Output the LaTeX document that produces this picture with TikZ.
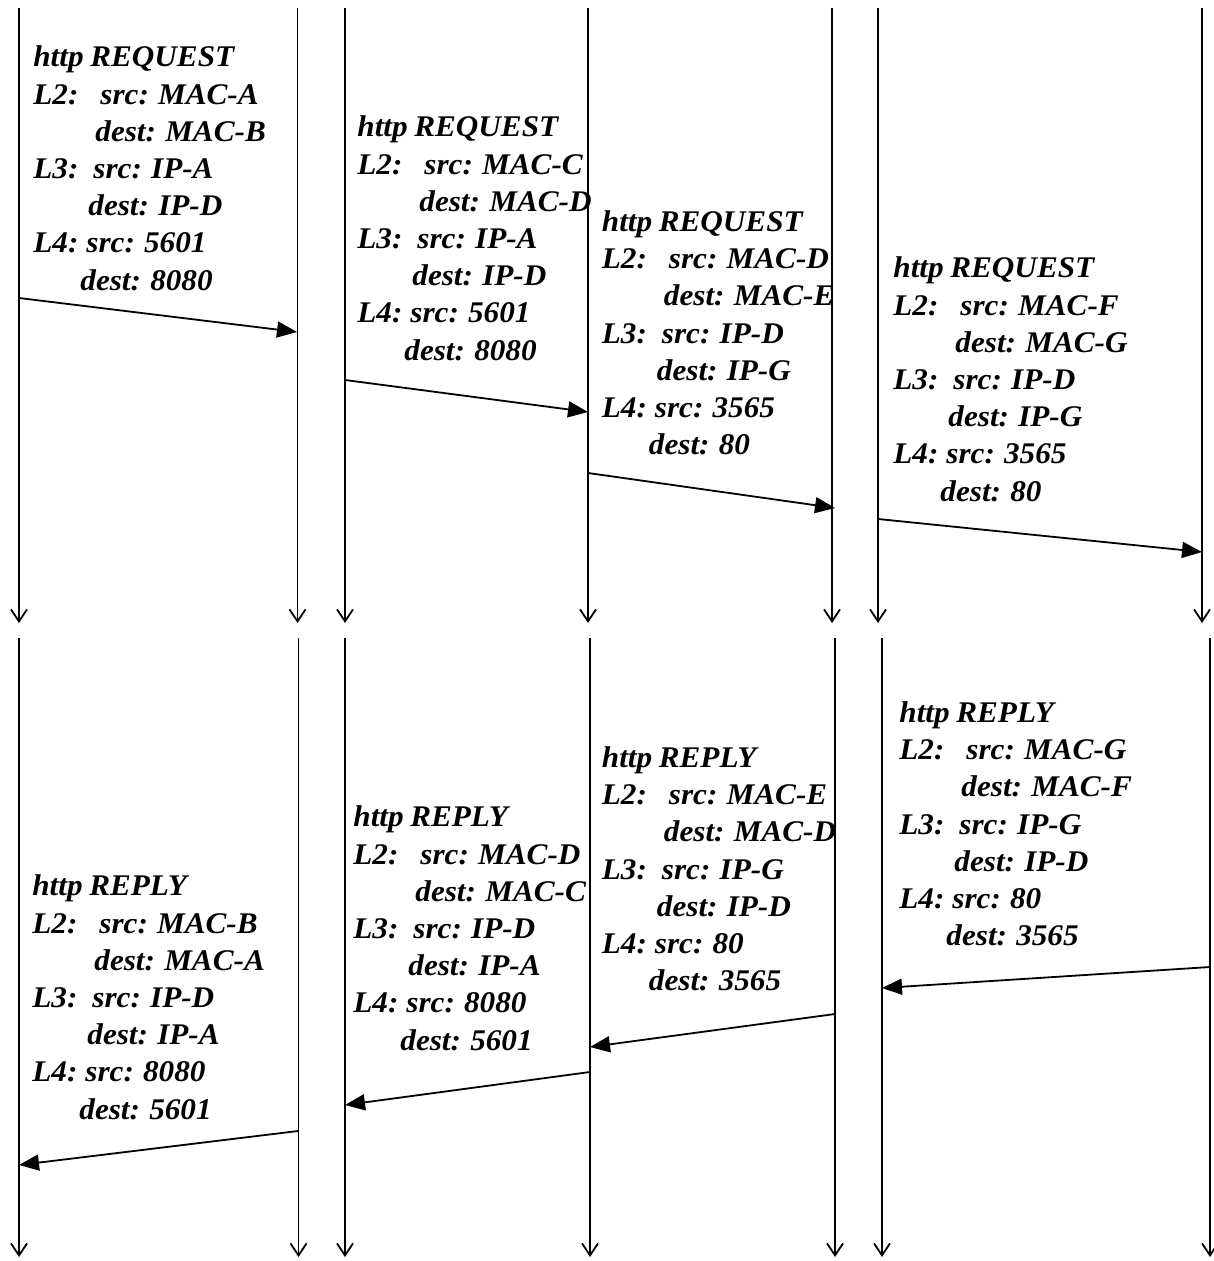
\documentclass[tikz,border=0pt]{standalone}
\usepackage{fontspec}
\setmainfont{Liberation Serif}[FakeStretch=1.04,WordSpace=0.85]
\usetikzlibrary{arrows.meta}
\newcommand{\pktblock}[7]{\rule{0pt}{10.5pt}http #1\\
\makebox[33.5pt][l]{L2:}src: #2\\
\hspace*{31pt}dest: #3\\
\makebox[30pt][l]{L3:}src: #4\\
\hspace*{27.5pt}dest: #5\\
\makebox[26.5pt][l]{L4:}src: #6\\
\hspace*{23.5pt}dest: #7}
\tikzset{
  life/.style={line width=0.9pt,-{Straight Barb[length=6pt,width=8pt,line width=0.9pt]}},
  msg/.style={line width=0.9pt,-{Triangle[length=10pt,width=8pt]}},
  pkt/.style={anchor=north west,inner sep=0pt,align=left,
    font=\fontsize{15}{18.6}\selectfont\bfseries\itshape}
}
\begin{document}
\begin{tikzpicture}[x=0.5pt,y=-0.5pt]
\useasboundingbox (0,0) rectangle (1213,1261);
% top lifelines
\foreach \n/\x in {A/19,B/297.5,C/345,D/588,E/832,F/878,G/1202}{
  \coordinate (t\n s) at (\x,8);
  \coordinate (t\n e) at (\x,623);
}
\foreach \n/\x in {A/19,B/298.5,C/345,D/590,E/835,F/882,G/1210}{
  \coordinate (b\n s) at (\x,638);
  \coordinate (b\n e) at (\x,1257);
}
\foreach \n in {A,B,C,D,E,F,G}{
  \draw[life] (t\n s) -- (t\n e);
  \draw[life] (b\n s) -- (b\n e);
}
% message endpoints
\coordinate (m1a) at (19,298);   \coordinate (m1b) at (297,332);
\coordinate (m2a) at (345,380);  \coordinate (m2b) at (588,412);
\coordinate (m3a) at (588,473);  \coordinate (m3b) at (835,508);
\coordinate (m4a) at (878,519);  \coordinate (m4b) at (1202,552);
\coordinate (m5a) at (1210,967); \coordinate (m5b) at (882,988);
\coordinate (m6a) at (835,1014); \coordinate (m6b) at (590,1047);
\coordinate (m7a) at (590,1072); \coordinate (m7b) at (345,1105);
\coordinate (m8a) at (298,1131); \coordinate (m8b) at (19,1165);
\foreach \i in {1,...,8}{ \draw[msg] (m\i a) -- (m\i b); }
% text blocks (y = first baseline - 21)
\node[pkt] (p1) at (33,45.5)  {\pktblock{REQUEST}{MAC-A}{MAC-B}{IP-A}{IP-D}{5601}{8080}};
\node[pkt] (p2) at (357,115.5) {\pktblock{REQUEST}{MAC-C}{MAC-D}{IP-A}{IP-D}{5601}{8080}};
\node[pkt] (p3) at (601.5,210) {\pktblock{REQUEST}{MAC-D}{MAC-E}{IP-D}{IP-G}{3565}{80}};
\node[pkt] (p4) at (893,256.5) {\pktblock{REQUEST}{MAC-F}{MAC-G}{IP-D}{IP-G}{3565}{80}};
\node[pkt] (p5) at (32,874.5) {\pktblock{REPLY}{MAC-B}{MAC-A}{IP-D}{IP-A}{8080}{5601}};
\node[pkt] (p6) at (353,805.5) {\pktblock{REPLY}{MAC-D}{MAC-C}{IP-D}{IP-A}{8080}{5601}};
\node[pkt] (p7) at (601.5,746) {\pktblock{REPLY}{MAC-E}{MAC-D}{IP-G}{IP-D}{80}{3565}};
\node[pkt] (p8) at (899,701) {\pktblock{REPLY}{MAC-G}{MAC-F}{IP-G}{IP-D}{80}{3565}};
\end{tikzpicture}
\end{document}
